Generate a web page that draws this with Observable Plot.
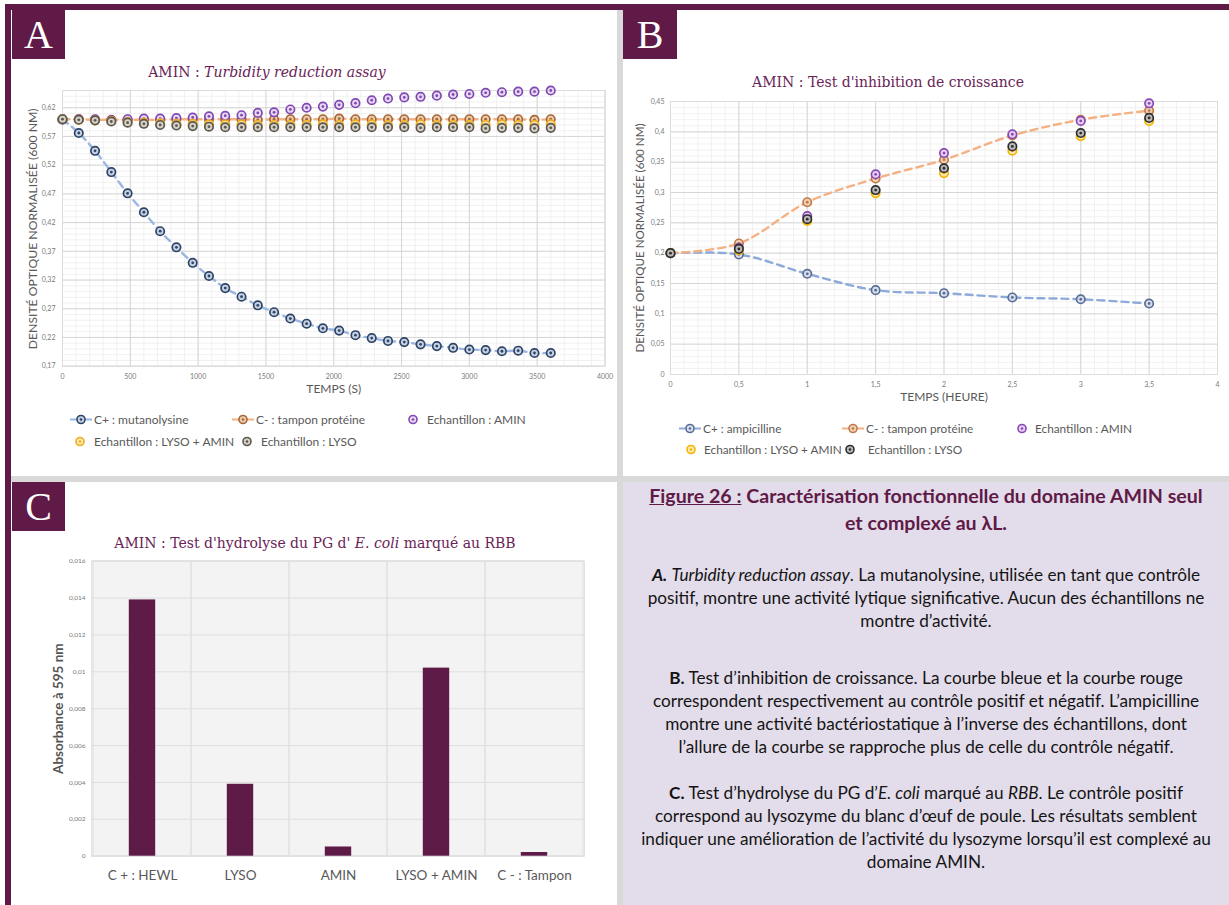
<!DOCTYPE html>
<html>
<head>
<meta charset="utf-8">
<script src="https://cdn.jsdelivr.net/npm/d3@7"></script>
<script src="https://cdn.jsdelivr.net/npm/@observablehq/plot@0.6"></script>
<style>
  html, body { margin: 0; padding: 0; }
  body { width: 1229px; height: 905px; position: relative; overflow: hidden; background: #fff; font-family: Lato, "Noto Sans", sans-serif; }
  .abs { position: absolute; }
  .bar { background: #5f1a47; }
  .gap { background: #d9d9d9; }
  .letter { background: #5f1a47; color: #fff; font-family: "Liberation Serif", "DejaVu Serif", serif; font-size: 40px; line-height: 49px; text-align: center; }
  .ctitle { font-family: "DejaVu Serif", serif; font-size: 14px; color: #6a2357; white-space: nowrap; transform: translate(-50%, -50%); }
  .leg { font-size: 12px; color: #595959; white-space: nowrap; transform: translateY(-50%); display: flex; align-items: center; }
  .leg svg { display: block; }
  .chart svg { max-width: none; }
  #notes { left: 623px; top: 482px; width: 606px; height: 423px; background: #e3dcea; }
  .para { position: absolute; left: 0; width: 606px; text-align: center; white-space: nowrap; color: #141414; font-size: 17.2px; line-height: 23px; }
  .head { color: #5f1a47; font-weight: bold; font-size: 19.6px; line-height: 27px; }
</style>
</head>
<body>

<script>
// ---------- Panel A : turbidity reduction assay ----------
const aTimes = [0, 120, 240, 360, 480, 600, 720, 840, 960, 1080, 1200, 1320, 1440, 1560, 1680, 1800,
  1920, 2040, 2160, 2280, 2400, 2520, 2640, 2760, 2880, 3000, 3120, 3240, 3360, 3480, 3600];
const aMutanolysine = [0.600, 0.576, 0.545, 0.508, 0.471, 0.438, 0.405, 0.377, 0.350, 0.327, 0.306, 0.291,
  0.276, 0.264, 0.253, 0.244, 0.236, 0.232, 0.224, 0.219, 0.214, 0.212, 0.208, 0.205, 0.202, 0.199,
  0.198, 0.196, 0.197, 0.193, 0.193];
const aTampon = [0.600, 0.600, 0.599, 0.599, 0.599, 0.599, 0.599, 0.600, 0.600, 0.600, 0.600, 0.600,
  0.599, 0.600, 0.600, 0.600, 0.600, 0.601, 0.600, 0.600, 0.600, 0.600, 0.600, 0.600, 0.600, 0.600,
  0.600, 0.600, 0.600, 0.599, 0.600];
const aAmin = [0.599, 0.600, 0.600, 0.598, 0.600, 0.601, 0.601, 0.602, 0.603, 0.605, 0.606, 0.607,
  0.611, 0.612, 0.617, 0.620, 0.622, 0.625, 0.628, 0.633, 0.636, 0.638, 0.639, 0.641, 0.643, 0.644,
  0.646, 0.647, 0.648, 0.648, 0.650];
const aLysoAmin = [0.600, 0.599, 0.598, 0.597, 0.595, 0.594, 0.593, 0.592, 0.592, 0.591, 0.591, 0.591,
  0.590, 0.590, 0.590, 0.590, 0.591, 0.590, 0.591, 0.591, 0.590, 0.590, 0.591, 0.590, 0.590, 0.590,
  0.590, 0.591, 0.590, 0.590, 0.591];
const aLyso = [0.600, 0.599, 0.598, 0.596, 0.594, 0.592, 0.590, 0.589, 0.588, 0.587, 0.586, 0.586,
  0.586, 0.586, 0.586, 0.586, 0.586, 0.586, 0.586, 0.586, 0.586, 0.586, 0.585, 0.586, 0.586, 0.586,
  0.584, 0.585, 0.585, 0.584, 0.585];
const aTicksX = [0, 500, 1000, 1500, 2000, 2500, 3000, 3500, 4000];
const aTicksY = [0.17, 0.22, 0.27, 0.32, 0.37, 0.42, 0.47, 0.52, 0.57, 0.62];

// ---------- Panel B : growth inhibition ----------
const bHours = [0, 0.5, 1, 1.5, 2, 2.5, 3, 3.5];
const bAmpicilline = [0.200, 0.198, 0.166, 0.139, 0.134, 0.127, 0.124, 0.117];
const bTampon = [0.200, 0.216, 0.284, 0.323, 0.354, 0.394, 0.420, 0.435];
const bAmin = [0.200, 0.209, 0.261, 0.330, 0.365, 0.396, 0.418, 0.447];
const bLysoAmin = [0.200, 0.205, 0.253, 0.299, 0.332, 0.369, 0.393, 0.418];
const bLyso = [0.200, 0.207, 0.256, 0.304, 0.340, 0.376, 0.398, 0.423];
const bTicksX = [0, 0.5, 1, 1.5, 2, 2.5, 3, 3.5, 4];
const bTicksY = [0, 0.05, 0.1, 0.15, 0.2, 0.25, 0.3, 0.35, 0.4, 0.45];

// ---------- Panel C : RBB-labelled PG hydrolysis ----------
const cCategories = ["C + : HEWL", "LYSO", "AMIN", "LYSO + AMIN", "C - : Tampon"];
const cAbsorbance = [0.0139, 0.0039, 0.0005, 0.0102, 0.0002];
const cTicksY = [0, 0.002, 0.004, 0.006, 0.008, 0.01, 0.012, 0.014, 0.016];

const comma = d => String(d).replace(".", ",");

// series styling: ring colour, inner fill, line colour (only the controls have a line)
const aStyles = [
  {name: "C+ : mutanolysine", values: aMutanolysine, ring: "#2d4467", inner: "#c6d1e2", line: "#9ab6e2"},
  {name: "C- : tampon protéine", values: aTampon, ring: "#a5673a", inner: "#ecccaa", line: "#f4b183"},
  {name: "Echantillon : AMIN", values: aAmin, ring: "#8048b3", inner: "#e7d9f1"},
  {name: "Echantillon : LYSO + AMIN", values: aLysoAmin, ring: "#efad1c", inner: "#fbe8b3"},
  {name: "Echantillon : LYSO", values: aLyso, ring: "#5b574f", inner: "#d6d1c6"}
];
const bStyles = [
  {name: "C+ : ampicilline", values: bAmpicilline, ring: "#5a6d94", inner: "#d8dfec", line: "#8eaadb"},
  {name: "C- : tampon protéine", values: bTampon, ring: "#c07a4a", inner: "#f1d0b3", line: "#f4b183"},
  {name: "Echantillon : AMIN", values: bAmin, ring: "#8a47b6", inner: "#e5d2f1"},
  {name: "Echantillon : LYSO + AMIN", values: bLysoAmin, ring: "#f3b300", inner: "#fdeab0"},
  {name: "Echantillon : LYSO", values: bLyso, ring: "#2e2e2e", inner: "#b9b9b9"}
];

function el(cls, css, html) {
  const d = document.createElement("div");
  d.className = cls;
  Object.assign(d.style, css);
  if (html != null) d.innerHTML = html;
  document.body.appendChild(d);
  return d;
}

function seriesMarks(styles, xs) {
  const lines = [], dots = [];
  for (const s of styles) {
    const rows = s.values.map((v, i) => ({x: xs[i], y: v}));
    if (s.line) lines.push(Plot.line(rows, {x: "x", y: "y", stroke: s.line, strokeWidth: 2.4, strokeDasharray: "7,5", curve: "catmull-rom"}));
    dots.push(Plot.dot(rows, {x: "x", y: "y", r: 4.2, stroke: s.ring, strokeWidth: 1.7, fill: s.inner}));
    dots.push(Plot.dot(rows, {x: "x", y: "y", r: 1.4, fill: s.ring}));
  }
  return [...lines, ...dots];
}

function swatch(s, withLine) {
  const w = withLine ? 22 : 10;
  const cx = w / 2;
  return `<svg width="${w}" height="12">` +
    (withLine ? `<line x1="0" x2="${w}" y1="6" y2="6" stroke="${s.line}" stroke-width="2"/>` : "") +
    `<circle cx="${cx}" cy="6" r="4" fill="${s.inner}" stroke="${s.ring}" stroke-width="1.6"/>` +
    `<circle cx="${cx}" cy="6" r="1.3" fill="${s.ring}"/></svg>`;
}

function legend(styles, spots, size) {
  styles.forEach((s, i) => {
    const p = spots[i];
    const item = el("abs leg", {left: p[0] + "px", top: p[1] + "px", gap: p[2] + "px", fontSize: size + "px"});
    item.innerHTML = swatch(s, !!s.line) + `<span>${s.name}</span>`;
  });
}

// ---------- frame of the figure ----------
el("abs bar", {left: "5px", top: "4px", width: "1224px", height: "6px"});
el("abs bar", {left: "5px", top: "4px", width: "6px", height: "901px"});
el("abs gap", {left: "617px", top: "10px", width: "6px", height: "895px"});
el("abs gap", {left: "11px", top: "476px", width: "1218px", height: "6px"});
el("abs letter", {left: "12px", top: "10px", width: "53px", height: "49px"}, "A");
el("abs letter", {left: "623px", top: "10px", width: "54px", height: "49px"}, "B");
el("abs letter", {left: "12px", top: "482px", width: "53px", height: "49px"}, "C");

// ---------- Panel A ----------
el("abs ctitle", {left: "267px", top: "72px"}, "AMIN : <i>Turbidity reduction assay</i>");
const plotA = Plot.plot({
  width: 606, height: 330,
  marginLeft: 51, marginRight: 12.5, marginTop: 10, marginBottom: 44.3,
  style: {fontFamily: "Lato, sans-serif", fontSize: "7px", color: "#7a7a7a", background: "transparent", overflow: "visible"},
  x: {domain: [0, 4000], ticks: aTicksX, tickFormat: comma, tickSize: 0, tickPadding: 7.5, label: null},
  y: {domain: [0.17, 0.65], ticks: aTicksY, tickFormat: comma, tickSize: 0, tickPadding: 7, label: null},
  marks: [
    Plot.ruleX(d3.range(0, 4001, 100), {stroke: "#ededed", strokeWidth: 0.8}),
    Plot.ruleY(d3.range(17, 66).map(v => v / 100), {stroke: "#ededed", strokeWidth: 0.8}),
    Plot.ruleX(aTicksX, {stroke: "#d6d6d6"}),
    Plot.ruleY(aTicksY, {stroke: "#d6d6d6"}),
    Plot.frame({stroke: "#dcdcdc"}),
    ...seriesMarks(aStyles, aTimes),
    Plot.text(["TEMPS (S)"], {frameAnchor: "bottom", dy: 26.3, fontSize: 12, fill: "#595959"}),
    Plot.text(["DENSITÉ OPTIQUE NORMALISÉE (600 NM)"], {frameAnchor: "left", textAnchor: "middle", dx: -29, dy: 0.5, rotate: -90, fontSize: 12.2, fill: "#595959"})
  ]
});
el("abs chart", {left: "11px", top: "80px"}).appendChild(plotA);
legend(aStyles, [[70, 419, 2], [232, 419, 2], [408, 419, 9], [75, 441, 9], [242, 441, 9]], 12);

// ---------- Panel B ----------
el("abs ctitle", {left: "888px", top: "82px"}, "AMIN : Test d'inhibition de croissance");
const plotB = Plot.plot({
  width: 606, height: 320,
  marginLeft: 47, marginRight: 12, marginTop: 11, marginBottom: 36,
  style: {fontFamily: "Lato, sans-serif", fontSize: "7px", color: "#7a7a7a", background: "transparent", overflow: "visible"},
  x: {domain: [0, 4], ticks: bTicksX, tickFormat: comma, tickSize: 0, tickPadding: 7.5, label: null},
  y: {domain: [0, 0.45], ticks: bTicksY, tickFormat: comma, tickSize: 0, tickPadding: 6, label: null},
  marks: [
    Plot.ruleX(d3.range(0, 41).map(v => v / 10), {stroke: "#ededed", strokeWidth: 0.8}),
    Plot.ruleY(d3.range(0, 46).map(v => v / 100), {stroke: "#ededed", strokeWidth: 0.8}),
    Plot.ruleX(bTicksX, {stroke: "#d6d6d6"}),
    Plot.ruleY(bTicksY, {stroke: "#d6d6d6"}),
    Plot.frame({stroke: "#dcdcdc"}),
    ...seriesMarks(bStyles, bHours),
    Plot.text(["TEMPS (HEURE)"], {frameAnchor: "bottom", dy: 26, fontSize: 12, fill: "#595959"}),
    Plot.text(["DENSITÉ OPTIQUE NORMALISÉE (600 NM)"], {frameAnchor: "left", textAnchor: "middle", dx: -30, rotate: -90, fontSize: 11.6, fill: "#595959"})
  ]
});
el("abs chart", {left: "623px", top: "90px"}).appendChild(plotB);
legend(bStyles, [[679, 428, 2], [842, 428, 2], [1017, 428, 8], [686, 449, 8], [845, 449, 13]], 11.8);

// ---------- Panel C ----------
el("abs ctitle", {left: "315px", top: "543px"}, "AMIN : Test d'hydrolyse du PG d' <i>E. coli</i> marqué au RBB");
const cRows = cCategories.map((c, i) => ({cat: c, v: cAbsorbance[i]}));
const plotC = Plot.plot({
  width: 606, height: 345,
  marginLeft: 80, marginRight: 33, marginTop: 10.7, marginBottom: 39.3,
  style: {fontFamily: "Lato, sans-serif", fontSize: "6.5px", color: "#7a7a7a", background: "transparent", overflow: "visible"},
  x: {domain: cCategories, padding: 0, tickSize: 0, tickPadding: 14, label: null},
  y: {domain: [0, 0.016], ticks: cTicksY, tickFormat: comma, tickSize: 0, tickPadding: 6, label: null},
  marks: [
    Plot.frame({fill: "#f3f3f3", stroke: "#e2e2e2"}),
    Plot.ruleY(cTicksY, {stroke: "#dedede"}),
    Plot.cell(cCategories, {x: d => d, fill: "none", stroke: "#e0e0e0"}),
    Plot.barY(cRows, {x: "cat", y: "v", fill: "#5e1b48", insetLeft: 35.8, insetRight: 35.8}),
    Plot.text(["Absorbance à 595 nm"], {frameAnchor: "left", textAnchor: "middle", dx: -32.5, rotate: -90, fontSize: 13.5, fontWeight: "bold", fill: "#555"})
  ]
});
el("abs chart", {left: "11px", top: "550px"}).appendChild(plotC);
// category labels use the larger font of the category axis
plotC.querySelectorAll("g[aria-label='x-axis tick label'] text").forEach(t => {
  t.setAttribute("font-size", "13.5");
  t.style.fill = "#595959";
});

// ---------- caption ----------
const notes = el("abs", {});
notes.id = "notes";
notes.innerHTML = `
  <div class="para head" style="top:-0.5px"><u>Figure 26 :</u> Caractérisation fonctionnelle du domaine AMIN seul<br>et complexé au λL.</div>
  <div class="para" style="top:80.5px"><b><i>A.</i></b> <i>Turbidity reduction assay</i>. La mutanolysine, utilisée en tant que contrôle<br>positif, montre une activité lytique significative. Aucun des échantillons ne<br>montre d’activité.</div>
  <div class="para" style="top:183.5px"><b>B.</b> Test d’inhibition de croissance. La courbe bleue et la courbe rouge<br>correspondent respectivement au contrôle positif et négatif. L’ampicilline<br>montre une activité bactériostatique à l’inverse des échantillons, dont<br>l’allure de la courbe se rapproche plus de celle du contrôle négatif.</div>
  <div class="para" style="top:298.5px"><b>C.</b> Test d’hydrolyse du PG d’<i>E. coli</i> marqué au <i>RBB</i>. Le contrôle positif<br>correspond au lysozyme du blanc d’œuf de poule. Les résultats semblent<br>indiquer une amélioration de l’activité du lysozyme lorsqu’il est complexé au<br>domaine AMIN.</div>`;
</script>
</body>
</html>
